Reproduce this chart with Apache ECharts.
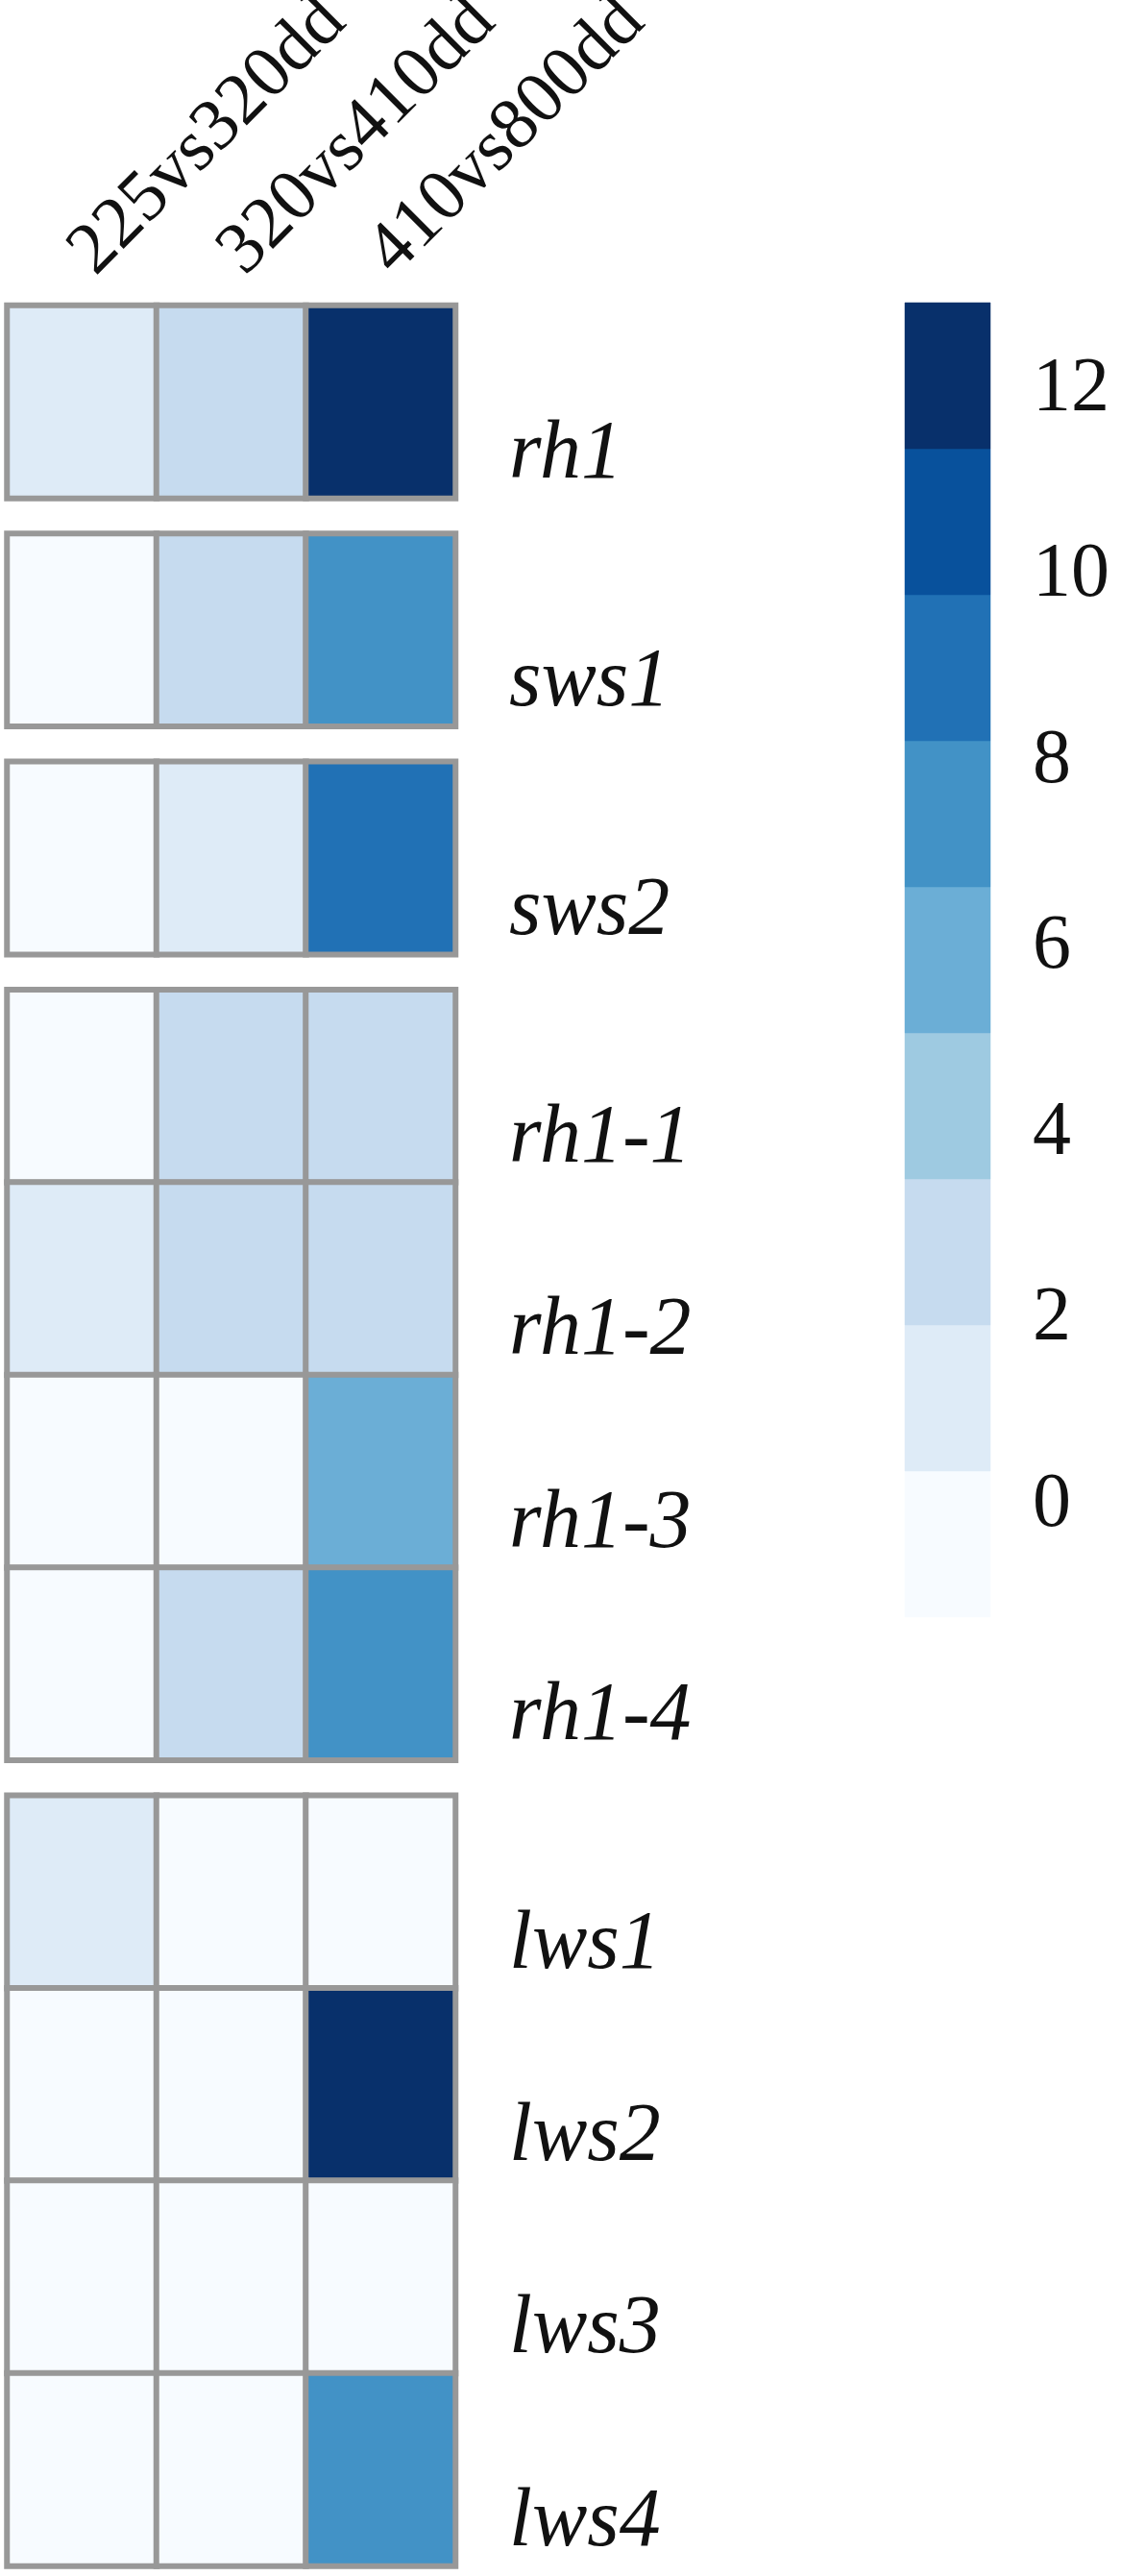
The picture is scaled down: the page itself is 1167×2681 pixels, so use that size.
<!DOCTYPE html>
<html>
<head>
<meta charset="utf-8">
<script src="https://cdn.jsdelivr.net/npm/echarts@6/dist/echarts.min.js"></script>
<style>
  html, body { margin: 0; padding: 0; background: #ffffff; }
  #chart { width: 1167px; height: 2681px; }
</style>
</head>
<body>
<div id="chart"></div>
<script>
// ---------- data ----------
const columns = ['225vs320dd', '320vs410dd', '410vs800dd'];

const group1Genes = ['rh1'];
const group2Genes = ['sws1'];
const group3Genes = ['sws2'];
const group4Genes = ['rh1-1', 'rh1-2', 'rh1-3', 'rh1-4'];
const group5Genes = ['lws1', 'lws2', 'lws3', 'lws4'];

// values per gene, one per column
const rh1   = [1.0, 2.8, 12.8];
const sws1  = [0.0, 2.8, 7.5];
const sws2  = [0.0, 1.0, 9.0];
const rh1_1 = [0.0, 2.8, 2.8];
const rh1_2 = [1.0, 2.8, 2.8];
const rh1_3 = [0.0, 0.0, 6.0];
const rh1_4 = [0.0, 2.8, 7.5];
const lws1  = [1.0, 0.0, 0.0];
const lws2  = [0.0, 0.0, 12.8];
const lws3  = [0.0, 0.0, 0.0];
const lws4  = [0.0, 0.0, 7.5];

// colour scale (9 discrete classes)
const scaleMin = -1.2;
const scaleMax = 12.94;
const scaleColors = ['#f7fbff', '#deebf7', '#c6dbef', '#9ecae1', '#6baed6',
                     '#4292c6', '#2171b5', '#08519c', '#08306b'];
const colorbarTicks = [0, 2, 4, 6, 8, 10, 12];

// ---------- build ----------
const groups = [
  { genes: group1Genes, rows: [rh1] },
  { genes: group2Genes, rows: [sws1] },
  { genes: group3Genes, rows: [sws2] },
  { genes: group4Genes, rows: [rh1_1, rh1_2, rh1_3, rh1_4] },
  { genes: group5Genes, rows: [lws1, lws2, lws3, lws4] }
];

const step = (scaleMax - scaleMin) / scaleColors.length;
const pieces = scaleColors.map((c, i) => {
  const lo = scaleMin + i * step;
  const hi = scaleMin + (i + 1) * step;
  return i === scaleColors.length - 1 ? { gte: lo, lte: hi + 1e-6, color: c } : { gte: lo, lt: hi, color: c };
});
const colorbarData = scaleColors.map((c, i) => [scaleMin + i * step, scaleMin + (i + 1) * step, i]);

const ROW_H = 200.4, GAP = 37, TOP0 = 318, LEFT = 7.5, WIDTH = 466.5;
const SERIF = '"Liberation Serif", "Times New Roman", serif';

const grids = [], xAxes = [], yAxes = [], series = [];
let curTop = TOP0;
groups.forEach((g, gi) => {
  const h = g.genes.length * ROW_H;
  grids.push({ left: LEFT, top: curTop, width: WIDTH, height: h, containLabel: false, outerBoundsMode: 'none' });
  xAxes.push({
    type: 'category', gridIndex: gi, data: columns, position: 'top',
    axisLine: { show: false }, axisTick: { show: false }, splitLine: { show: false },
    axisLabel: gi === 0 ? {
      show: true, rotate: -45, align: 'left', verticalAlign: 'middle',
      fontSize: 76, fontFamily: SERIF, color: '#111', margin: 44, interval: 0
    } : { show: false }
  });
  yAxes.push({
    type: 'category', gridIndex: gi, data: g.genes, inverse: true, position: 'right',
    axisLine: { show: false }, axisTick: { show: false }, splitLine: { show: false },
    axisLabel: {
      show: true, fontSize: 86, fontStyle: 'italic', fontFamily: SERIF, color: '#111',
      margin: 56, align: 'left', verticalAlign: 'top', lineHeight: 112, interval: 0
    }
  });
  const data = [];
  g.rows.forEach((vals, ri) => vals.forEach((v, ci) => data.push([ci, ri, v])));
  series.push({
    type: 'heatmap', xAxisIndex: gi, yAxisIndex: gi, data: data,
    itemStyle: { borderColor: '#989898', borderWidth: 6 },
    emphasis: { disabled: true }
  });
  curTop += h + GAP;
});

// colour bar
const cbIndex = groups.length;
grids.push({ left: 942, top: 315, width: 89, height: 1368, outerBoundsMode: 'none' });
xAxes.push({ type: 'value', gridIndex: cbIndex, min: 0, max: 1, show: false });
yAxes.push({
  type: 'value', gridIndex: cbIndex, min: scaleMin, max: scaleMax, position: 'right',
  axisLine: { show: false }, axisTick: { show: false }, splitLine: { show: false },
  axisLabel: { show: true, customValues: colorbarTicks, fontSize: 80, fontFamily: SERIF, color: '#111', margin: 44 }
});
series.push({
  type: 'custom', xAxisIndex: cbIndex, yAxisIndex: cbIndex, data: colorbarData,
  encode: { y: [0, 1] }, silent: true,
  renderItem: (params, api) => {
    const p0 = api.coord([0, api.value(1)]);
    const p1 = api.coord([1, api.value(0)]);
    const col = scaleColors[api.value(2)];
    return {
      type: 'rect',
      shape: { x: p0[0], y: p0[1], width: p1[0] - p0[0], height: p1[1] - p0[1] },
      style: { fill: col, stroke: col, lineWidth: 0.5 }
    };
  }
});

const chart = echarts.init(document.getElementById('chart'), null, { renderer: 'canvas' });
chart.setOption({
  backgroundColor: '#ffffff',
  animation: false,
  grid: grids,
  xAxis: xAxes,
  yAxis: yAxes,
  visualMap: {
    type: 'piecewise', show: false,
    seriesIndex: groups.map((g, i) => i),
    pieces: pieces
  },
  series: series
});
</script>
</body>
</html>
